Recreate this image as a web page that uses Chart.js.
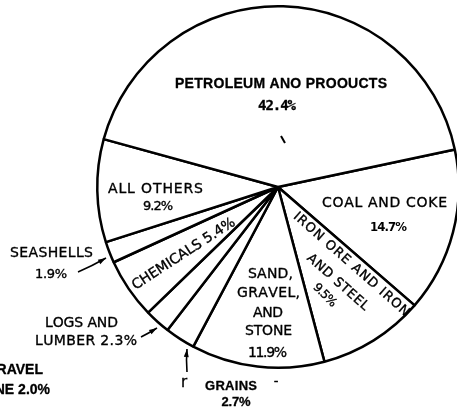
<!DOCTYPE html>
<html>
<head>
<meta charset="utf-8">
<script src="https://cdn.jsdelivr.net/npm/chart.js@4"></script>
<style>
html,body{margin:0;padding:0;background:#fff;overflow:hidden;width:457px;height:412px;}
canvas{display:block;}
</style>
</head>
<body>
<canvas id="c" width="500" height="412" style="width:500px;height:412px"></canvas>
<script>
// ---- data ----
const categories = ['COAL AND COKE','IRON ORE AND IRON AND STEEL','SAND, GRAVEL, AND STONE','GRAINS','LOGS AND LUMBER','CHEMICALS','SEASHELLS','ALL OTHERS','PETROLEUM AND PRODUCTS'];
const shares = [14.7, 9.5, 11.9, 2.7, 2.3, 5.4, 1.9, 9.2, 42.4];
const pctLabels = ['14.7%','9.5%','11.9%','2.7%','2.3%','5.4%','1.9%','9.2%','42.4%'];

// ---- label layout (text as printed in the picture) ----
const LT = "'DejaVu Sans', sans-serif";
const BD = "bold {s}px 'Liberation Sans', Arial, sans-serif";
const textItems = [
  {t:'PETROLEUM ANO PROOUCTS', x:281, y:83, w:212, s:14, f:BD, k:0.3},
  {t:pctLabels[8], x:277, y:105, w:38, s:14, f:"bold {s}px 'DejaVu Sans Mono', monospace", k:0.3},
  {t:'COAL AND COKE', x:384.5, y:202, w:125, s:14, k:0.35},
  {t:pctLabels[0], x:388.5, y:226, w:37, s:13, f:"bold {s}px 'DejaVu Sans Condensed', 'DejaVu Sans', sans-serif"},
  {t:'ALL OTHERS', x:155.5, y:188, w:95, s:14, k:0.35},
  {t:pctLabels[7], x:158, y:205, w:30, s:13, k:0.35},
  {t:'SEASHELLS', x:51.5, y:252, w:83, s:14, k:0.35},
  {t:pctLabels[6], x:51, y:273, w:32, s:13, k:0.35},
  {t:'LOGS AND', x:81.5, y:322, w:73, s:14, k:0.35},
  {t:'LUMBER ' + pctLabels[4], x:86, y:340, w:102, s:14, k:0.35},
  {t:'SAND,', x:270.5, y:273, w:45, s:14, k:0.35},
  {t:'GRAVEL,', x:268.5, y:292, w:63, s:14, k:0.35},
  {t:'AND', x:268, y:312, w:30, s:14, k:0.35},
  {t:'STONE', x:268.5, y:330, w:47, s:14, k:0.35},
  {t:pctLabels[2], x:267.5, y:352, w:39, s:14, k:0.35},
  {t:'CHEMICALS ' + pctLabels[5], x:183, y:253, w:120, s:14, r:-33, k:0.35},
  {t:'IRON ORE AND IRON', x:352, y:263.5, w:150, s:13, r:41.4, k:0.35},
  {t:'AND STEEL', x:338.5, y:281.5, w:78, s:13, r:41.6, k:0.35},
  {t:pctLabels[1], x:325.5, y:294.5, w:28, s:12, r:45, k:0.35},
  {t:'r', x:184, y:382, w:0, s:15, k:0.35},
  {t:'GRAINS', x:231, y:385, w:52, s:13, f:BD, k:0.3},
  {t:pctLabels[3], x:236, y:401, w:29, s:13, f:BD, k:0.3},
  {t:'-', x:276, y:380, w:0, s:13, k:0.35},
  {t:'GRAVEL', x:43, y:369, w:0, s:14, f:BD, a:'right', k:0.3},
  {t:'STONE 2.0%', x:50, y:389, w:0, s:14, f:BD, a:'right', k:0.3}
];
const arrows = [
  {pts:[[78,272],[92,266],[106,258]]},
  {pts:[[141,337],[149,333],[157,328]]},
  {pts:[[187,372],[186,360],[187,349]]}
];
const ticks = [[[281,136],[285,143]]];

function drawLabel(ctx, it){
  const fontTpl = it.f || ("{s}px " + LT);
  ctx.save();
  ctx.translate(it.x, it.y);
  if (it.r) ctx.rotate(it.r * Math.PI / 180);
  ctx.font = fontTpl.replace('{s}', it.s);
  ctx.fillStyle = '#000';
  ctx.strokeStyle = '#000';
  ctx.lineWidth = it.k || 0;
  ctx.lineJoin = 'round';
  ctx.textBaseline = 'alphabetic';
  const capH = it.s * 0.72;
  const chars = Array.from(it.t);
  const widths = chars.map(c => ctx.measureText(c).width);
  const natural = widths.reduce((a,b)=>a+b,0);
  const put = (s, x) => { ctx.fillText(s, x, capH/2); if (it.k) ctx.strokeText(s, x, capH/2); };
  if (!it.w) {
    ctx.textAlign = it.a || 'center';
    put(it.t, 0);
  } else {
    const ls = chars.length > 1 ? (it.w - natural) / (chars.length - 1) : 0;
    let x = -it.w / 2;
    ctx.textAlign = 'left';
    chars.forEach((c,i) => { put(c, x); x += widths[i] + ls; });
  }
  ctx.restore();
}

const annotPlugin = {
  id: 'annot',
  afterDraw(chart){
    const ctx = chart.ctx;
    textItems.forEach(it => drawLabel(ctx, it));
    ctx.save();
    ctx.strokeStyle = '#000'; ctx.fillStyle = '#000'; ctx.lineWidth = 1.6;
    arrows.forEach(a => {
      const p = a.pts;
      ctx.beginPath();
      ctx.moveTo(p[0][0], p[0][1]);
      ctx.quadraticCurveTo(p[1][0], p[1][1], p[2][0], p[2][1]);
      ctx.stroke();
      const [ex,ey] = p[2], [sx,sy] = p[1];
      const ang = Math.atan2(ey-sy, ex-sx);
      ctx.beginPath();
      ctx.moveTo(ex, ey);
      ctx.lineTo(ex - 8*Math.cos(ang) + 2.5*Math.sin(ang), ey - 8*Math.sin(ang) - 2.5*Math.cos(ang));
      ctx.lineTo(ex - 8*Math.cos(ang) - 2.5*Math.sin(ang), ey - 8*Math.sin(ang) + 2.5*Math.cos(ang));
      ctx.closePath();
      ctx.fill();
    });
    ctx.lineWidth = 2;
    ticks.forEach(t => { ctx.beginPath(); ctx.moveTo(t[0][0],t[0][1]); ctx.lineTo(t[1][0],t[1][1]); ctx.stroke(); });
    ctx.restore();
  }
};

new Chart(document.getElementById('c'), {
  type: 'pie',
  data: {
    labels: categories,
    datasets: [{
      data: shares,
      backgroundColor: '#ffffff',
      borderColor: '#000000',
      borderWidth: 2.5,
      hoverOffset: 0
    }]
  },
  options: {
    responsive: false,
    animation: false,
    rotation: 78,
    layout: { padding: { left: 96, top: 5, right: 40, bottom: 43 } },
    plugins: { legend: { display: false }, tooltip: { enabled: false } },
    events: []
  },
  plugins: [annotPlugin]
});
</script>
</body>
</html>
